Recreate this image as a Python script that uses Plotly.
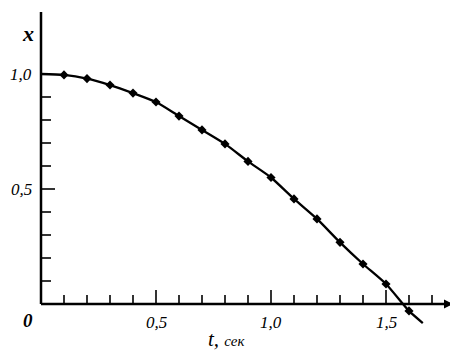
import plotly.graph_objects as go

# measured points (t in sec, x)
t_pts = [0.1, 0.2, 0.3, 0.4, 0.5, 0.6, 0.7, 0.8, 0.9, 1.0, 1.1, 1.2, 1.3, 1.4, 1.5, 1.6]
x_pts = [0.996, 0.98, 0.952, 0.917, 0.878, 0.817, 0.757, 0.696, 0.62, 0.55, 0.457, 0.37, 0.268, 0.174, 0.087, -0.03]
# curve drawn through the points, with its start and end
curve_t = [0.0] + t_pts + [1.66]
curve_x = [1.0] + x_pts + [-0.083]

x_minor_ticks = [0.1, 0.2, 0.3, 0.4, 0.6, 0.7, 0.8, 0.9, 1.1, 1.2, 1.3, 1.4, 1.6, 1.7]
x_major_ticks = [0.5, 1.0, 1.5]
x_tick_labels = ["0,5", "1,0", "1,5"]
y_minor_ticks = [0.1, 0.2, 0.3, 0.4, 0.6, 0.7, 0.8, 0.9]
y_major_ticks = [0.5]
y_label_vals = [0.5, 1.0]
y_tick_labels = ["0,5", "1,0"]

PX = 230.0  # pixels per unit on both axes
OFF = 8     # page body margin
OX = 41 - OFF
OY = 304 - OFF
x_range = [-OX / PX, (458 - OX) / PX]
y_range = [-(352 - OY) / PX, OY / PX]

def px(n):
    return n / PX

fig = go.Figure()
fig.add_trace(go.Scatter(x=curve_t, y=curve_x, mode="lines", line=dict(color="black", width=2.3, shape="spline", smoothing=0.6), hoverinfo="skip"))
fig.add_trace(go.Scatter(x=t_pts, y=x_pts, mode="markers", marker=dict(color="black", size=7, symbol="diamond"), cliponaxis=False))

shapes = []
LW = 2.5
shapes.append(dict(type="line", x0=0, x1=1.78, y0=0, y1=0, line=dict(color="black", width=LW)))
shapes.append(dict(type="line", x0=0, x1=0, y0=0, y1=1.27, line=dict(color="black", width=LW)))
for v in x_minor_ticks:
    shapes.append(dict(type="line", x0=v, x1=v, y0=0, y1=px(9), line=dict(color="black", width=1.6)))
for v in x_major_ticks:
    shapes.append(dict(type="line", x0=v, x1=v, y0=0, y1=px(14), line=dict(color="black", width=1.6)))
for v in y_minor_ticks:
    shapes.append(dict(type="line", x0=0, x1=px(10), y0=v, y1=v, line=dict(color="black", width=1.6)))
for v in y_major_ticks:
    shapes.append(dict(type="line", x0=0, x1=px(14), y0=v, y1=v, line=dict(color="black", width=1.6)))

ann = []
FONT = "Liberation Serif"
for v, s in zip(x_major_ticks, x_tick_labels):
    ann.append(dict(x=v, y=-px(18), text="<i>" + s + "</i>", showarrow=False, font=dict(family=FONT, size=17, color="black"), xanchor="center", yanchor="middle"))
for v, s in zip(y_label_vals, y_tick_labels):
    ann.append(dict(x=-px(20), y=v, text="<i>" + s + "</i>", showarrow=False, font=dict(family=FONT, size=17, color="black"), xanchor="center", yanchor="middle"))
ann.append(dict(x=-px(13), y=-px(16), text="<b><i>0</i></b>", showarrow=False, font=dict(family=FONT, size=19, color="black"), xanchor="center", yanchor="middle"))
ann.append(dict(x=-px(13), y=px(304 - 33), text="<b><i>x</i></b>", showarrow=False, font=dict(family=FONT, size=22, color="black"), xanchor="center", yanchor="middle"))
ann.append(dict(x=px(226 - 41), y=-px(35), text="<i>t, <span style='font-size:15px'>сек</span></i>", showarrow=False, font=dict(family=FONT, size=21, color="black"), xanchor="center", yanchor="middle"))
ann.append(dict(x=px(453 - 41), y=0, ax=px(440 - 41), ay=0, axref="x", ayref="y", xref="x", yref="y", text="", showarrow=True, arrowhead=2, arrowsize=1, arrowwidth=1.8, arrowcolor="black"))

fig.update_layout(
    width=458, height=352,
    margin=dict(l=0, r=0, t=0, b=0),
    paper_bgcolor="white", plot_bgcolor="white",
    showlegend=False,
    xaxis=dict(range=x_range, visible=False, fixedrange=True),
    yaxis=dict(range=y_range, visible=False, fixedrange=True),
    shapes=shapes, annotations=ann,
)
fig.write_html("out.html")
